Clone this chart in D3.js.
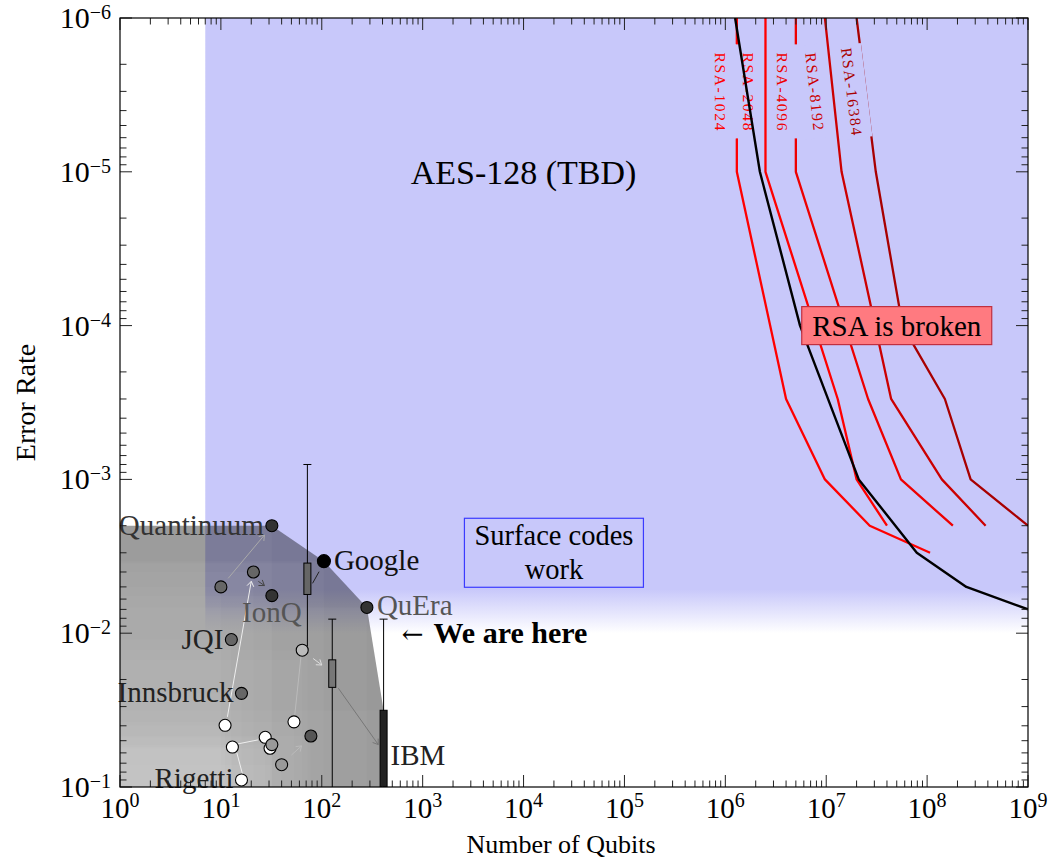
<!DOCTYPE html>
<html lang="en">
<head>
<meta charset="utf-8">
<title>Error rate vs number of qubits</title>
<script src="https://d3js.org/d3.v7.min.js"></script>
<style>
  body { margin: 0; background: #fff; }
  svg { display: block; }
  svg text { font-family: "Liberation Serif", "DejaVu Serif", serif; fill: #000; }
</style>
</head>
<body>
<div id="chart"></div>
<script>
// ---- data (qubits, error rate) ----
const devices = [
  // label, qubits, error rate, fill
  ["Quantinuum", 32, 2.0e-3, "#333"],
  ["Google", 105, 3.4e-3, "#000"],
  ["QuEra", 280, 6.8e-3, "#333"],
  ["IonQ", 32, 5.7e-3, "#333"],
  ["JQI", 12.7, 1.1e-2, "#666"],
  ["Innsbruck", 16, 2.46e-2, "#666"],
  ["Rigetti", 16, 9.0e-2, "#fff"],
  ["", 10, 5.0e-3, "#666"],
  ["", 21, 4.0e-3, "#666"],
  ["", 78, 4.66e-2, "#555"],
  ["", 64, 1.29e-2, "#bbb"],
  ["", 11, 3.97e-2, "#fff"],
  ["", 13, 5.5e-2, "#fff"],
  ["", 27.5, 4.75e-2, "#fff"],
  ["", 30.7, 5.6e-2, "#fff"],
  ["", 32, 5.3e-2, "#999"],
  ["", 40, 7.16e-2, "#999"],
  ["", 53, 3.77e-2, "#fff"]
];

// box plots: qubits, best error, q1, q3, worst error, fill, label
const boxes = [
  [72, 8.0e-4, 3.5e-3, 5.6e-3, 1.22e-2, "#666", ""],
  [127, 8.1e-3, 1.49e-2, 2.25e-2, 1e-1, "#777", ""],
  [410, 8.1e-3, 3.17e-2, 1e-1, 1e-1, "#222", "IBM"]
];

// progress arrows: from, to, colour, arrow head
const arrows = [
  [[11.8, 4.4e-3], [27, 2.3e-3], "#aaa", true],
  [[23.5, 4.6e-3], [27, 4.9e-3], "#444", true],
  [[11.6, 3.5e-2], [20, 4.6e-3], "#eee", true],
  [[54, 3.4e-2], [63, 1.31e-2], "#bbb", false],
  [[82, 1.46e-2], [100, 1.61e-2], "#ddd", true],
  [[146, 2.28e-2], [363, 5.3e-2], "#777", true],
  [[50, 6.2e-2], [63, 5.4e-2], "#bbb", true],
  [[14.6, 5.25e-2], [23.3, 4.94e-2], "#eee", false],
  [[16.5, 8.4e-2], [14.4, 6.0e-2], "#eee", false],
  [[81, 4.74e-3], [94, 3.98e-3], "#222", false]
];

// RSA resource estimates: [qubits, error rate]
const rsa1024 = [[1.3e6, 1e-6], [1.3e6, 1e-5], [4.0e6, 3e-4], [9.7e6, 1e-3], [2.7e7, 2e-3], [1.07e8, 3e-3]];
const rsa2048 = [[2.5e6, 1e-6], [2.5e6, 1e-5], [1.3e7, 3e-4], [2.0e7, 1e-3], [4.0e7, 2e-3]];
const rsa4096 = [[5.0e6, 1e-6], [5.0e6, 1e-5], [2.6e7, 3e-4], [5.5e7, 1e-3], [1.8e8, 2e-3]];
const rsa8192 = [[9.7e6, 1e-6], [1.42e7, 1e-5], [4.4e7, 3e-4], [1.4e8, 1e-3], [3.8e8, 2e-3]];
const rsa16384 = [[2.0e7, 1e-6], [3.1e7, 1e-5], [5.7e7, 1e-4], [1.5e8, 3e-4], [2.7e8, 1e-3], [1.0e9, 2e-3]];
const rsaNames = ["RSA-1024", "RSA-2048", "RSA-4096", "RSA-8192", "RSA-16384"];
const rsaSeries = [rsa1024, rsa2048, rsa4096, rsa8192, rsa16384];
const rsaColors = ["#ff0000", "#ff0000", "#ee0000", "#cc0000", "#a80000"];

// surface code threshold curve
const surfaceCurve = [[1.25e6, 1e-6], [2.2e6, 1e-5], [5.5e6, 1e-4], [2.1e7, 1e-3], [7.9e7, 3e-3], [2.45e8, 5e-3], [1e9, 7e-3]];

// AES-128 region
const aesMinQubits = 7;
const aesFadeStart = 5.2e-3, aesFadeEnd = 1e-2;

const xExponents = d3.range(0, 10);
const yExponents = d3.range(-6, 0);

// ---- layout ----
const width = 1058, height = 859;
const plot = {left: 120, right: 1028, top: 18, bottom: 787};
const blue = "#c8c8fa";

const x = d3.scaleLog().domain([1, 1e9]).range([plot.left, plot.right]);
const y = d3.scaleLog().domain([1e-1, 1e-6]).range([plot.bottom, plot.top]);
const px = d => [x(d[0]), y(d[1])];

const svg = d3.select("#chart").append("svg")
    .attr("width", width)
    .attr("height", height);

const defs = svg.append("defs");
defs.append("clipPath").attr("id", "plotclip").append("rect")
    .attr("x", plot.left).attr("y", plot.top)
    .attr("width", plot.right - plot.left).attr("height", plot.bottom - plot.top);

const grad = defs.append("linearGradient").attr("id", "aesfade")
    .attr("gradientUnits", "userSpaceOnUse")
    .attr("x1", 0).attr("x2", 0)
    .attr("y1", y(aesFadeStart)).attr("y2", y(aesFadeEnd));
grad.append("stop").attr("offset", 0).attr("stop-color", blue).attr("stop-opacity", 1);
grad.append("stop").attr("offset", 1).attr("stop-color", blue).attr("stop-opacity", 0);

const g = svg.append("g").attr("clip-path", "url(#plotclip)");

// AES region
g.append("rect")
    .attr("x", x(aesMinQubits)).attr("y", plot.top)
    .attr("width", plot.right - x(aesMinQubits))
    .attr("height", y(aesFadeEnd) - plot.top)
    .attr("fill", "url(#aesfade)");

// dominated region of the current frontier
const byName = Object.fromEntries(devices.filter(d => d[0]).map(d => [d[0], d]));
const ibm = boxes[2];
const front = [byName.Quantinuum, byName.Google, byName.QuEra].map(d => [d[1], d[2]]).concat([[ibm[0], ibm[2]]]);
const hull = [[1, front[0][1]], ...front, [ibm[0], 1e-1], [1, 1e-1]];
g.append("path")
    .attr("d", d3.line()(hull.map(px)) + "Z")
    .attr("fill", "#000")
    .attr("fill-opacity", 0.4);

// each result lightens what it dominates
const shadePts = devices.map(d => [d[1], d[2]]).concat(boxes.map(b => [b[0], b[2]]));
g.append("g").selectAll("rect").data(shadePts).join("rect")
    .attr("x", plot.left)
    .attr("y", d => y(d[1]))
    .attr("width", d => x(d[0]) - plot.left)
    .attr("height", d => plot.bottom - y(d[1]))
    .attr("fill", "#fff")
    .attr("fill-opacity", 0.03);

// RSA curves
const line = d3.line().x(d => x(d[0])).y(d => y(d[1]));
g.append("g").selectAll("path").data(rsaSeries).join("path")
    .attr("d", line)
    .attr("fill", "none")
    .attr("stroke", (d, i) => rsaColors[i])
    .attr("stroke-width", 2.3)
    .attr("stroke-linejoin", "round");

// RSA labels, rotated along the top part of each curve
const labelErr = 3e-6;
const labelShift = [-16, -17, -13, -18, -14];
rsaSeries.forEach((s, i) => {
    const [a, b] = [px(s[0]), px(s[1])];
    const t = (y(labelErr) - a[1]) / (b[1] - a[1]);
    const cx = a[0] + t * (b[0] - a[0]) + labelShift[i];
    const cy = y(labelErr);
    const ang = Math.atan2(b[1] - a[1], b[0] - a[0]) * 180 / Math.PI;
    const lg = g.append("g").attr("transform", `translate(${cx},${cy}) rotate(${ang})`);
    lg.append("rect").attr("x", -47).attr("y", -15).attr("width", 94).attr("height", 30).attr("fill", blue);
    lg.append("text")
        .attr("text-anchor", "middle")
        .attr("dy", "0.35em")
        .attr("font-size", 15.5)
        .attr("textLength", i === 4 ? 88 : 78)
        .attr("lengthAdjust", "spacing")
        .style("fill", rsaColors[i])
        .text(rsaNames[i]);
});

// surface code curve
g.append("path")
    .datum(surfaceCurve)
    .attr("d", line)
    .attr("fill", "none")
    .attr("stroke", "#000")
    .attr("stroke-width", 2.4)
    .attr("stroke-linejoin", "round");

// "RSA is broken"
const rb = g.append("g").attr("transform", `translate(${x(5e7)},${y(1e-4)})`);
rb.append("rect").attr("x", -95).attr("y", -19).attr("width", 190).attr("height", 38)
    .attr("fill", "#ff7a80").attr("stroke", "#c03040").attr("stroke-width", 1.2);
rb.append("text").attr("text-anchor", "middle").attr("y", 10).attr("font-size", 29).text("RSA is broken");

// AES label
g.append("text")
    .attr("x", x(1e4)).attr("y", y(1e-5) + 12)
    .attr("text-anchor", "middle")
    .attr("font-size", 34)
    .text("AES-128 (TBD)");

// "Surface codes work"
const sc = g.append("g").attr("transform", `translate(${x(2e4)},${y(3e-3)})`);
sc.append("rect").attr("x", -89.5).attr("y", -34.5).attr("width", 179).attr("height", 69)
    .attr("fill", "none").attr("stroke", "#3b3bff").attr("stroke-width", 1.2);
sc.append("text").attr("text-anchor", "middle").attr("y", -8).attr("font-size", 28.5).text("Surface codes");
sc.append("text").attr("text-anchor", "middle").attr("y", 26).attr("font-size", 28.5).text("work");

// "We are here"
const here = g.append("text")
    .attr("x", x(620)).attr("y", y(1e-2) + 10)
    .attr("font-size", 28);
here.append("tspan").style("font-family", "DejaVu Serif").attr("font-size", 26).text("\u2190");
here.append("tspan").attr("font-weight", "bold").attr("font-size", 30).attr("dx", 10).text("We are here");

// arrows between results
function drawArrow(sel, p0, p1, color, head) {
    const [x0, y0] = px(p0), [x1, y1] = px(p1);
    sel.append("line")
        .attr("x1", x0).attr("y1", y0).attr("x2", x1).attr("y2", y1)
        .attr("stroke", color).attr("stroke-width", 1);
    if (head) {
        const ang = Math.atan2(y1 - y0, x1 - x0), L = 6, s = 0.6;
        sel.append("path")
            .attr("d", `M${x1 - L * Math.cos(ang - s)},${y1 - L * Math.sin(ang - s)}L${x1},${y1}L${x1 - L * Math.cos(ang + s)},${y1 - L * Math.sin(ang + s)}`)
            .attr("fill", "none").attr("stroke", color).attr("stroke-width", 1);
    }
}
const ag = g.append("g");
arrows.forEach(a => drawArrow(ag, a[0], a[1], a[2], a[3]));

// box plots
const bg = g.append("g");
boxes.forEach(b => {
    const bx = x(b[0]);
    bg.append("line").attr("x1", bx).attr("x2", bx).attr("y1", y(b[1])).attr("y2", y(b[4]))
        .attr("stroke", "#000").attr("stroke-width", 1);
    bg.append("line").attr("x1", bx - 4).attr("x2", bx + 4).attr("y1", y(b[1])).attr("y2", y(b[1]))
        .attr("stroke", "#000").attr("stroke-width", 1);
    bg.append("rect").attr("x", bx - 3.5).attr("width", 7)
        .attr("y", y(b[2])).attr("height", y(b[3]) - y(b[2]))
        .attr("fill", b[5]).attr("stroke", "#000").attr("stroke-width", 1);
    if (b[6]) {
        bg.append("text").attr("x", bx + 7).attr("y", y(6.2e-2) + 10)
            .attr("font-size", 29).style("fill", "#222").text(b[6]);
    }
});

// devices
g.append("g").selectAll("circle").data(devices).join("circle")
    .attr("cx", d => x(d[1]))
    .attr("cy", d => y(d[2]))
    .attr("r", d => d[0] === "Google" ? 6.5 : 6)
    .attr("fill", d => d[3])
    .attr("stroke", "#000")
    .attr("stroke-width", 1.1);

// device labels
const labelPlace = {
    Quantinuum: {anchor: "end", dx: -8, dy: 9, color: "#333"},
    Google: {anchor: "start", dx: 10, dy: 9, color: "#111"},
    QuEra: {anchor: "start", dx: 10, dy: 8, color: "#555"},
    IonQ: {anchor: "middle", dx: 0, dy: 26, color: "#555"},
    JQI: {anchor: "end", dx: -8, dy: 9, color: "#222"},
    Innsbruck: {anchor: "end", dx: -8, dy: 9, color: "#222"},
    Rigetti: {anchor: "end", dx: -8, dy: 8, color: "#222"}
};
svg.append("g").selectAll("text").data(devices.filter(d => d[0])).join("text")
    .attr("x", d => x(d[1]) + labelPlace[d[0]].dx)
    .attr("y", d => y(d[2]) + labelPlace[d[0]].dy)
    .attr("text-anchor", d => labelPlace[d[0]].anchor)
    .attr("font-size", 29)
    .style("fill", d => labelPlace[d[0]].color)
    .text(d => d[0]);

// ---- axes ----
const ax = svg.append("g").attr("stroke", "#222").attr("stroke-width", 1);
const xMinor = [], yMinor = [];
xExponents.slice(0, -1).forEach(k => d3.range(2, 10).forEach(m => xMinor.push(m * 10 ** k)));
yExponents.slice(0, -1).forEach(k => d3.range(2, 10).forEach(m => yMinor.push(m * 10 ** k)));

xExponents.forEach(k => {
    const xx = x(10 ** k);
    ax.append("line").attr("x1", xx).attr("x2", xx).attr("y1", plot.bottom).attr("y2", plot.bottom - 12);
    ax.append("line").attr("x1", xx).attr("x2", xx).attr("y1", plot.top).attr("y2", plot.top + 12);
});
xMinor.forEach(v => {
    const xx = x(v);
    ax.append("line").attr("x1", xx).attr("x2", xx).attr("y1", plot.bottom).attr("y2", plot.bottom - 6.5);
    ax.append("line").attr("x1", xx).attr("x2", xx).attr("y1", plot.top).attr("y2", plot.top + 6.5);
});
yExponents.forEach(k => {
    const yy = y(10 ** k);
    ax.append("line").attr("x1", plot.left).attr("x2", plot.left + 12).attr("y1", yy).attr("y2", yy);
    ax.append("line").attr("x1", plot.right).attr("x2", plot.right - 12).attr("y1", yy).attr("y2", yy);
});
yMinor.forEach(v => {
    const yy = y(v);
    ax.append("line").attr("x1", plot.left).attr("x2", plot.left + 6.5).attr("y1", yy).attr("y2", yy);
    ax.append("line").attr("x1", plot.right).attr("x2", plot.right - 6.5).attr("y1", yy).attr("y2", yy);
});

svg.append("rect")
    .attr("x", plot.left).attr("y", plot.top)
    .attr("width", plot.right - plot.left).attr("height", plot.bottom - plot.top)
    .attr("fill", "none").attr("stroke", "#000").attr("stroke-width", 1.2);

// tick labels
xExponents.forEach(k => {
    const t = svg.append("text")
        .attr("x", x(10 ** k)).attr("y", plot.bottom + 31)
        .attr("text-anchor", "middle")
        .attr("font-size", 29);
    t.append("tspan").text("10");
    t.append("tspan").attr("dy", -11).attr("font-size", 20).text(String(k));
});
yExponents.forEach(k => {
    const t = svg.append("text")
        .attr("x", plot.left - 9).attr("y", y(10 ** k) + 10)
        .attr("text-anchor", "end")
        .attr("font-size", 30);
    t.append("tspan").text("10");
    t.append("tspan").attr("dy", -9).attr("font-size", 20).text("\u2212" + Math.abs(k));
});

// axis titles
svg.append("text")
    .attr("x", 561).attr("y", 853)
    .attr("text-anchor", "middle")
    .attr("font-size", 26)
    .text("Number of Qubits");
svg.append("text")
    .attr("transform", `translate(35,${(plot.top + plot.bottom) / 2}) rotate(-90)`)
    .attr("text-anchor", "middle")
    .attr("font-size", 28)
    .text("Error Rate");
</script>
</body>
</html>
